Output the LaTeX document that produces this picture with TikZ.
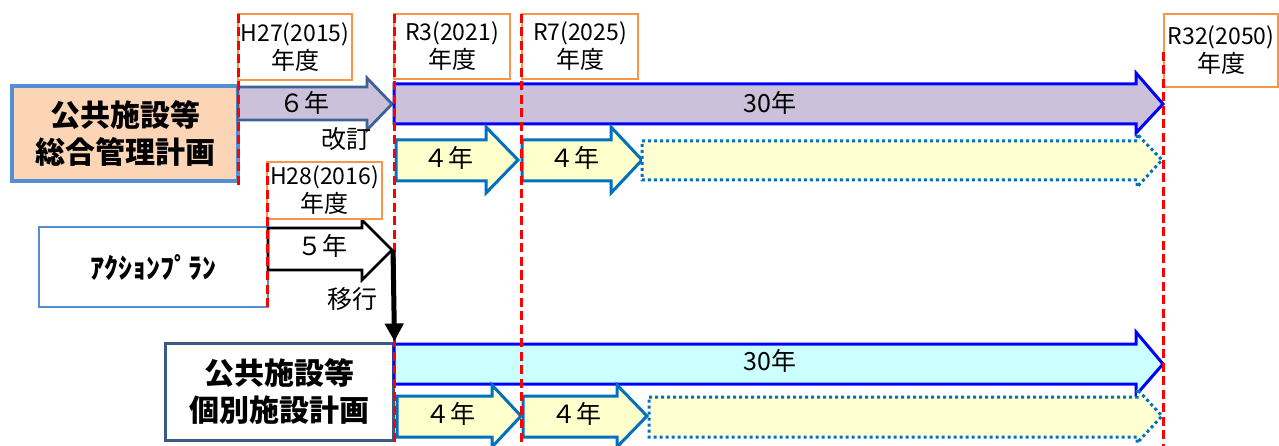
\documentclass[tikz,border=0pt]{standalone}
\usepackage{fontspec}
\setmainfont{Noto Sans CJK JP}
\usetikzlibrary{arrows.meta}
\definecolor{peach}{HTML}{FBD5B5}
\definecolor{boxblue}{HTML}{558ED5}
\definecolor{lav}{HTML}{CCC1DA}
\definecolor{slate}{HTML}{3D6296}
\definecolor{ylw}{HTML}{FFFFCC}
\definecolor{ylwb}{HTML}{0070C0}
\definecolor{cyanf}{HTML}{CCFFFF}
\definecolor{orangeb}{HTML}{F79646}
\definecolor{darkb}{HTML}{3B5A82}
\begin{document}
\begin{tikzpicture}[x=1pt,y=-1pt,
  redline/.style={draw=red, line width=3pt, dash pattern=on 9pt off 4.5pt},
  labelbox/.style={draw=orangeb, line width=2.2pt, fill=white, inner sep=0pt, align=center, font=\fontsize{23}{28}\selectfont},
  titlebox/.style={line width=3.5pt, inner sep=0pt, align=center, font=\fontsize{30}{37}\selectfont\bfseries},
  lavarrow/.style={fill=lav, line width=2.8pt},
  yarrow/.style={fill=ylw, draw=ylwb, line width=3pt},
  darrow/.style={fill=ylw!85!white, draw=ylwb, line width=3pt, dash pattern=on 3pt off 3pt},
  txt/.style={inner sep=0pt, font=\fontsize{25}{28}\selectfont}
]
\useasboundingbox (0,0) rectangle (1279,446);

% ---- title boxes
\node[titlebox, draw=boxblue, fill=peach, minimum width=226, minimum height=95] (sogo) at (125,133.5) {公共施設等\\総合管理計画};
\node[titlebox, draw=boxblue, line width=2.4pt, fill=white, minimum width=229, minimum height=80, font=\fontsize{28}{30}\selectfont\bfseries] (ap) at (153.5,267) {ｱｸｼｮﾝﾌﾟﾗﾝ};
\node[titlebox, draw=darkb, line width=3pt, fill=white, minimum width=228, minimum height=97] (kobetsu) at (279,391.5) {公共施設等\\個別施設計画};

% ---- row 1 arrows
\draw[lavarrow, draw=slate] (238,87) -- (367,87) -- (367,78) -- (392,104) -- (367,130) -- (367,120) -- (238,120) -- cycle;
\node[txt] (t6) at (304,103) {６年};
\draw[lavarrow, draw=blue, line width=3pt] (394,84) -- (1136,84) -- (1136,73) -- (1163,104) -- (1136,133) -- (1136,124) -- (394,124) -- cycle;
\node[txt] (t30a) at (770,103) {30年};
\node[txt] (kaitei) at (346,139) {改訂};

% ---- row 2 arrows
\draw[yarrow] (396,140) -- (486,140) -- (486,127) -- (518,160) -- (486,193) -- (486,181) -- (396,181) -- cycle;
\node[txt] (t4a) at (448,158) {４年};
\draw[yarrow] (522,140) -- (611,140) -- (611,127) -- (642,160) -- (611,193) -- (611,181) -- (522,181) -- cycle;
\node[txt] (t4b) at (574,158) {４年};
\draw[darrow] (642,141) -- (1137,141) -- (1137,134) -- (1162,160) -- (1137,187) -- (1137,180) -- (642,180) -- cycle;

% ---- action plan arrow
\draw[fill=white, draw=black, line width=2.6pt] (268,228) -- (362,228) -- (362,220) -- (392,250) -- (362,280) -- (362,270) -- (268,270) -- cycle;
\coordinate (tip5) at (393,250);
\node[txt] (t5) at (322,246) {５年};
\node[txt] (ikou) at (352,299) {移行};

% ---- bottom arrows
\draw[fill=cyanf, draw=blue, line width=3pt] (394,344) -- (1136,344) -- (1136,332) -- (1163,364) -- (1136,395) -- (1136,384) -- (394,384) -- cycle;
\node[txt] (t30b) at (770,361) {30年};
\draw[yarrow] (397,396) -- (492,396) -- (492,385) -- (521,416) -- (492,447) -- (492,437) -- (397,437) -- cycle;
\node[txt] (t4c) at (450,414) {４年};
\draw[yarrow] (523,396) -- (617,396) -- (617,385) -- (647,416) -- (617,447) -- (617,437) -- (523,437) -- cycle;
\node[txt] (t4d) at (576,414) {４年};
\draw[darrow] (649,397) -- (1137,397) -- (1137,389) -- (1162,416) -- (1137,443) -- (1137,437) -- (649,437) -- cycle;

% ---- year labels
\node[labelbox, minimum width=114, minimum height=66] (h27) at (295,47) {H27(2015)\\{\fontsize{24}{28}\selectfont 年度}};
\node[labelbox, minimum width=116, minimum height=65] (r3) at (452,46.5) {R3(2021)\\{\fontsize{24}{28}\selectfont 年度}};
\node[labelbox, minimum width=116, minimum height=65] (r7) at (580,46.5) {R7(2025)\\{\fontsize{24}{28}\selectfont 年度}};
\node[labelbox, minimum width=114, minimum height=73] (r32) at (1221,50.5) {R32(2050)\\{\fontsize{24}{28}\selectfont 年度}};
\node[labelbox, minimum width=115, minimum height=57] (h28) at (324.5,190.5) {H28(2016)\\{\fontsize{24}{28}\selectfont 年度}};

% ---- red dashed lines
\draw[redline] (238,14) -- (238,189);
\draw[redline] (267,163) -- (267,309);
\draw[redline] (394,14) -- (394,446);
\draw[redline] (521,14) -- (521,446);
\draw[redline] (1163,52) -- (1163,446);

% ---- transition arrow
\draw[line width=5pt, -{Triangle[length=18pt,width=18pt]}] (tip5) -- (kobetsu.north east);
\end{tikzpicture}
\end{document}
